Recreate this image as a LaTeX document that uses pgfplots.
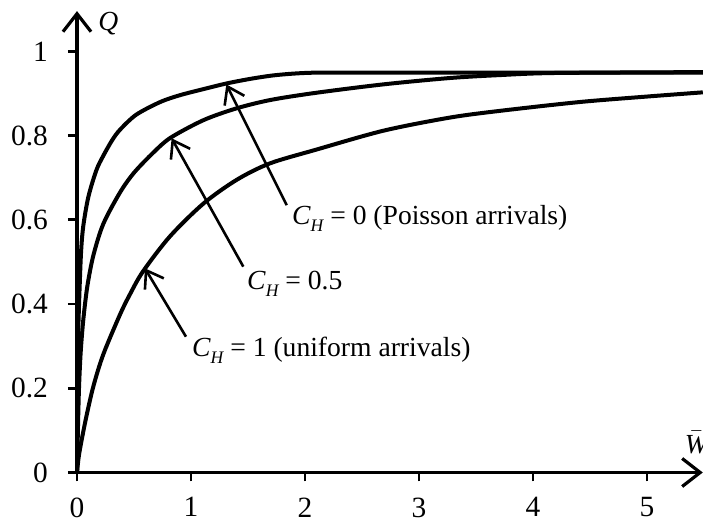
\documentclass[border=0pt]{standalone}
\usepackage{fontspec}
\setmainfont{Liberation Serif}
\usepackage{pgfplots}
\pgfplotsset{compat=1.18}
\usetikzlibrary{arrows.meta}

% C_H with an italic subscript H
\newcommand{\CH}{\textit{C}\raisebox{-3.3pt}{\fontsize{8.8}{10}\selectfont\itshape H}}

\pgfplotstableread{
x      q
0      0
0.003  0.15
0.008  0.30
0.018  0.40
0.035  0.52
0.055  0.585
0.10   0.655
0.17   0.718
0.23   0.752
0.31   0.790
0.38   0.815
0.52   0.850
0.73   0.880
0.90   0.896
1.10   0.910
1.31   0.924
1.52   0.935
1.70   0.9425
1.85   0.9465
2.00   0.949
2.20   0.950
3.00   0.950
4.00   0.950
5.49   0.950
}\curveA

\pgfplotstableread{
x      q
0      0
0.010  0.125
0.018  0.204
0.032  0.284
0.055  0.362
0.090  0.441
0.143  0.515
0.23   0.590
0.377  0.665
0.50   0.712
0.67   0.760
0.82   0.795
1.11   0.837
1.40   0.865
1.70   0.885
2.10   0.902
2.69   0.922
3.27   0.937
3.71   0.944
4.20   0.949
5.49   0.951
}\curveB

\pgfplotstableread{
x      q
0      0
0.020  0.046
0.076  0.125
0.143  0.204
0.23   0.280
0.377  0.375
0.47   0.426
0.58   0.478
0.816  0.561
1.11   0.639
1.40   0.695
1.69   0.734
2.10   0.767
2.69   0.812
3.27   0.843
3.71   0.859
4.41   0.880
5.00   0.893
5.49   0.903
}\curveC

\begin{document}
\begin{tikzpicture}
\begin{axis}[
  scale only axis,
  width=312.9pt, height=230.7pt,
  xmin=0, xmax=5.49, ymin=0, ymax=1.096,
  axis lines=left,
  axis line style={line width=1.6pt,
    -{Straight Barb[length=9pt,width=14pt,line width=1.6pt]}},
  xtick={0,1,2,3,4,5},
  ytick={0,0.2,0.4,0.6,0.8,1},
  xticklabels={0,1,2,3,4,5},
  yticklabels={0,0.2,0.4,0.6,0.8,1},
  tick align=outside,
  major tick length=4.5pt,
  tick style={line width=1.4pt, black},
  ticklabel style={font=\fontsize{14.7}{16}\selectfont},
  xticklabel style={yshift=-4.5pt},
  yticklabel style={xshift=-6.5pt},
  /pgf/number format/assume math mode=true,
  clip=false,
]
\addplot[line width=2pt, smooth] table {\curveA};
\addplot[line width=2pt, smooth] table {\curveB};
\addplot[line width=2pt, smooth] table {\curveC};

\coordinate (O) at (axis cs:0,0);

% pointers from the labels to their curves
\draw[line width=1.3pt, -{Straight Barb[length=8pt,width=11pt,line width=1.3pt]}]
  (axis cs:1.84,0.635) -- (axis cs:1.31,0.922);
\draw[line width=1.3pt, -{Straight Barb[length=8pt,width=11pt,line width=1.3pt]}]
  (axis cs:1.459,0.489) -- (axis cs:0.83,0.794);
\draw[line width=1.3pt, -{Straight Barb[length=8pt,width=11pt,line width=1.3pt]}]
  (axis cs:0.956,0.3226) -- (axis cs:0.596,0.485);

\begin{scope}[every node/.style={anchor=base west, inner sep=0pt,
    font=\fontsize{13.8}{16}\selectfont}]
  \node at (axis cs:1.883,0.588) {\CH{} = 0 (Poisson arrivals)};
  \node at (axis cs:1.489,0.4335) {\CH{} = 0.5};
  \node at (axis cs:1.006,0.275) {\CH{} = 1 (uniform arrivals)};
  \node at (axis cs:0.184,1.051) {\textit{Q}};
  \node at (axis cs:5.33,0.046) {$\bar{\mbox{\itshape W}}$};
\end{scope}
\end{axis}
\pgfresetboundingbox
\useasboundingbox ([shift={(-38.5pt,-25.25pt)}]O) rectangle ([shift={(313pt,236.25pt)}]O);
\end{tikzpicture}
\end{document}
